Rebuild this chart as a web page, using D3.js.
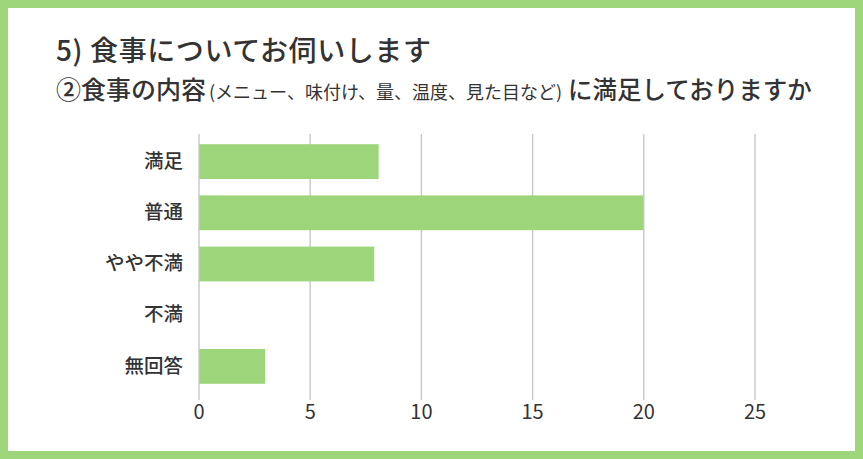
<!DOCTYPE html>
<html>
<head>
<meta charset="utf-8">
<script src="https://cdn.jsdelivr.net/npm/d3@7/dist/d3.min.js"></script>
<style>
  html, body { margin: 0; padding: 0; background: #fff; }
  svg { display: block; }
  text { font-family: "Noto Sans CJK JP", "Noto Sans", sans-serif; fill: #333; }
</style>
</head>
<body>
<svg id="chart" width="863" height="459"></svg>
<script>
const categories = ["満足", "普通", "やや不満", "不満", "無回答"];
const values = [8.1, 20, 7.9, 0, 3];
const xTicks = [0, 5, 10, 15, 20, 25];
const titleText = "5) 食事についてお伺いします";
const subtitleParts = [
  { text: "②食事の内容", size: 25, dx: 0 },
  { text: "(メニュー、味付け、量、温度、見た目など)", size: 18, dx: 3 },
  { text: "に満足しておりますか", size: 24.5, dx: 6 }
];

const W = 863, H = 459;
const green = "#9dd57a";
const svg = d3.select("#chart");

// frame
svg.append("rect").attr("x", 0).attr("y", 0).attr("width", W).attr("height", H).attr("fill", green);
svg.append("rect").attr("x", 8).attr("y", 8).attr("width", W - 16).attr("height", H - 16).attr("fill", "#fff");

// titles
svg.append("text").attr("x", 56).attr("y", 61)
  .attr("font-size", 28).attr("font-weight", 500)
  .attr("letter-spacing", 0.6).text(titleText);

const sub = svg.append("text").attr("x", 56).attr("y", 99).attr("font-weight", 500);
subtitleParts.forEach(p => {
  sub.append("tspan").attr("font-size", p.size).attr("dx", p.dx)
    .attr("font-weight", p.size < 20 ? 400 : 500).text(p.text);
});

// scales
const x = d3.scaleLinear().domain([0, 25]).range([198.5, 754.5]);
const y = d3.scaleBand().domain(categories).range([136, 392]).paddingInner(0.32).paddingOuter(0.16);

// grid + ticks
const gridTop = 134, gridBottom = 400;
const xAxis = d3.axisBottom(x).tickValues(xTicks).tickSize(gridBottom - gridTop).tickPadding(5).tickFormat(d3.format("d"));
const gx = svg.append("g").attr("transform", `translate(0,${gridTop})`).call(xAxis);
gx.select(".domain").remove();
gx.selectAll(".tick line").attr("stroke", "#c8c8c8").attr("stroke-width", 1.4);
gx.selectAll(".tick text").attr("font-size", 20).attr("fill", "#333")
  .style("font-family", "'Noto Sans CJK JP', sans-serif");

// bars
svg.append("g").selectAll("rect").data(categories).join("rect")
  .attr("x", x(0) + 0.8)
  .attr("y", d => y(d))
  .attr("height", y.bandwidth())
  .attr("width", (d, i) => Math.max(0, x(values[i]) - x(0) - 0.8))
  .attr("fill", green);

// category labels
const yAxis = d3.axisLeft(y).tickSize(0).tickPadding(0);
const gy = svg.append("g").attr("transform", "translate(183,0)").call(yAxis);
gy.select(".domain").remove();
gy.selectAll(".tick text").attr("font-size", 19.5).attr("fill", "#333")
  .attr("font-weight", 500)
  .style("font-family", "'Noto Sans CJK JP', sans-serif");
</script>
</body>
</html>
